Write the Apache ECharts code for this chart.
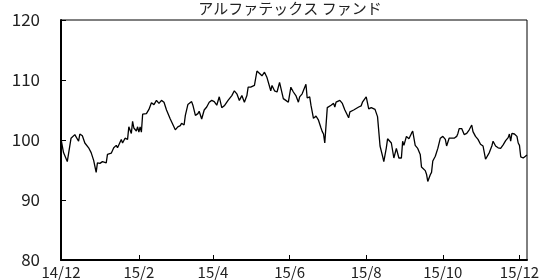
<!DOCTYPE html>
<html>
<head>
<meta charset="utf-8">
<script src="https://cdn.jsdelivr.net/npm/echarts@6/dist/echarts.min.js"></script>
<style>
  html, body { margin: 0; padding: 0; background: #fff; }
  #chart { width: 544px; height: 280px; }
</style>
</head>
<body>
<div id="chart"></div>
<script>
// 基準価額の推移（読み取り値）
var title = "アルファテックス ファンド";
var tickDates = ["2014-12-01", "2015-02-01", "2015-04-01", "2015-06-01", "2015-08-01", "2015-10-01", "2015-12-01"];
var startDate = "2014-12-01";
var endDate = "2015-12-07";

var dates = [
  "2014-12-01","2014-12-03","2014-12-06","2014-12-09","2014-12-12","2014-12-13","2014-12-15","2014-12-16",
  "2014-12-18","2014-12-20","2014-12-23","2014-12-25","2014-12-27","2014-12-29","2014-12-30",
  "2015-01-01","2015-01-03","2015-01-06","2015-01-07","2015-01-10","2015-01-12","2015-01-14","2015-01-15",
  "2015-01-18","2015-01-19","2015-01-21","2015-01-23","2015-01-24","2015-01-26","2015-01-27","2015-01-28",
  "2015-01-30","2015-01-31",
  "2015-02-01","2015-02-02","2015-02-03","2015-02-04","2015-02-07","2015-02-09","2015-02-11","2015-02-13",
  "2015-02-15","2015-02-17","2015-02-19","2015-02-21","2015-02-23","2015-02-24","2015-02-26","2015-02-27",
  "2015-03-02","2015-03-04","2015-03-06","2015-03-07","2015-03-09","2015-03-10","2015-03-12","2015-03-15",
  "2015-03-16","2015-03-18","2015-03-20","2015-03-21","2015-03-23","2015-03-25","2015-03-27","2015-03-29",
  "2015-03-31",
  "2015-04-02","2015-04-03","2015-04-04","2015-04-06","2015-04-08","2015-04-10","2015-04-13","2015-04-16",
  "2015-04-18","2015-04-20","2015-04-22","2015-04-24","2015-04-26","2015-04-28","2015-04-29",
  "2015-05-01","2015-05-04","2015-05-06","2015-05-07","2015-05-10","2015-05-12","2015-05-14","2015-05-15",
  "2015-05-17","2015-05-18","2015-05-20","2015-05-22","2015-05-24","2015-05-25","2015-05-27","2015-05-29",
  "2015-05-31",
  "2015-06-02","2015-06-04","2015-06-06","2015-06-08","2015-06-09","2015-06-11","2015-06-14","2015-06-15",
  "2015-06-17","2015-06-18","2015-06-20","2015-06-22","2015-06-24","2015-06-26","2015-06-27","2015-06-28",
  "2015-06-29",
  "2015-07-01","2015-07-04","2015-07-06","2015-07-07","2015-07-08","2015-07-11","2015-07-13","2015-07-15",
  "2015-07-18","2015-07-19","2015-07-22","2015-07-23","2015-07-26","2015-07-28","2015-07-29","2015-07-30",
  "2015-08-01","2015-08-03","2015-08-05","2015-08-08","2015-08-10","2015-08-12","2015-08-14","2015-08-15",
  "2015-08-17","2015-08-18","2015-08-21","2015-08-22","2015-08-23","2015-08-25","2015-08-26","2015-08-27",
  "2015-08-29","2015-08-30","2015-08-31",
  "2015-09-02","2015-09-04","2015-09-06","2015-09-07","2015-09-09","2015-09-11","2015-09-13","2015-09-14",
  "2015-09-15","2015-09-17","2015-09-18","2015-09-19","2015-09-21","2015-09-22","2015-09-23","2015-09-25",
  "2015-09-27","2015-09-29",
  "2015-10-01","2015-10-03","2015-10-04","2015-10-06","2015-10-08","2015-10-10","2015-10-12","2015-10-13",
  "2015-10-14","2015-10-16","2015-10-18","2015-10-20","2015-10-22","2015-10-24","2015-10-25","2015-10-27",
  "2015-10-29","2015-10-31",
  "2015-11-02","2015-11-04","2015-11-07","2015-11-09","2015-11-10","2015-11-12","2015-11-14","2015-11-16",
  "2015-11-18","2015-11-20","2015-11-22","2015-11-23","2015-11-24","2015-11-25","2015-11-27","2015-11-29",
  "2015-11-30",
  "2015-12-01","2015-12-02","2015-12-04","2015-12-05","2015-12-07"
];

var values = [
  100.2, 97.9, 96.4, 100.3, 100.9, 101.0, 99.8, 101.0,
  100.7, 99.5, 98.7, 97.9, 96.6, 94.6, 96.2,
  96.1, 96.4, 96.2, 97.6, 97.8, 98.7, 99.1, 98.7,
  100.1, 99.5, 100.3, 100.1, 102.2, 101.1, 103.1, 102.0,
  101.5, 102.2,
  101.3, 102.2, 101.3, 104.3, 104.4, 105.1, 106.2, 105.9,
  106.6, 106.1, 106.6, 106.3, 105.0, 105.2, 103.5, 103.6,
  101.7, 102.2, 102.4, 102.8, 102.5, 104.1, 105.9, 106.4,
  105.8, 104.1, 104.4, 104.8, 103.5, 105.0, 105.5, 106.3,
  106.6,
  106.4, 106.1, 105.8, 107.2, 105.4, 105.7, 106.6, 107.4,
  108.2, 107.7, 106.6, 107.4, 106.3, 107.4, 108.8,
  108.8, 109.1, 111.5, 111.3, 110.7, 111.3, 110.4, 110.3,
  108.2, 109.1, 108.2, 108.0, 109.6, 109.9, 106.9, 106.6,
  106.3,
  108.8, 108.0, 107.4, 106.3, 107.2, 107.7, 109.3, 107.0,
  107.2, 105.8, 103.6, 104.0, 103.3, 102.0, 101.4, 101.0,
  99.5,
  105.4, 105.8, 106.1, 105.5, 106.3, 106.6, 106.1, 105.0,
  103.7, 104.7, 105.0, 105.2, 105.5, 105.7, 106.3, 106.3,
  107.2, 105.2, 105.4, 105.1, 103.9, 99.0, 97.3, 96.4,
  98.7, 100.2, 99.5, 99.2, 97.0, 98.6, 98.8, 97.0,
  97.0, 99.8, 99.1,
  100.6, 100.2, 101.1, 101.5, 99.1, 98.6, 97.6, 95.5,
  95.4, 94.9, 94.3, 93.1, 94.2, 94.6, 96.5, 97.3,
  98.6, 100.3,
  100.6, 100.1, 99.0, 100.3, 100.3, 100.3, 100.6, 101.1,
  101.9, 101.9, 100.9, 101.1, 101.7, 102.5, 101.4, 100.6,
  100.1, 99.3,
  99.0, 96.8, 97.9, 99.0, 99.8, 99.0, 98.7, 98.6,
  99.2, 99.9, 100.4, 101.0, 99.8, 101.1, 101.0, 100.6,
  99.5,
  99.1, 97.2, 97.0, 97.2, 97.5
];

function parseDate(s) {
  var p = s.split("-");
  return new Date(+p[0], +p[1] - 1, +p[2]).getTime();
}

var chart = echarts.init(document.getElementById("chart"), null, { renderer: "canvas" });

var fontFamily = "'Noto Sans CJK JP', sans-serif";
var seriesData = dates.map(function (d, i) { return [parseDate(d), values[i]]; });
var tickValues = tickDates.map(parseDate);

var option = {
  animation: false,
  title: {
    text: title,
    left: 285,
    textAlign: "center",
    top: -4,
    textStyle: { fontFamily: fontFamily, fontSize: 15, fontWeight: "normal", color: "#222" }
  },
  grid: {
    left: 61, right: 17, top: 20, bottom: 16,
    show: true,
    borderColor: "#000",
    borderWidth: 1,
    backgroundColor: "transparent"
  },
  xAxis: {
    type: "value",
    min: parseDate(startDate),
    max: parseDate(endDate),
    axisLine: { show: true, lineStyle: { color: "#000", width: 2 } },
    axisTick: {
      show: true, inside: true, length: 5,
      customValues: tickValues,
      lineStyle: { color: "#000", width: 1 }
    },
    axisLabel: {
      customValues: tickValues,
      margin: 5,
      fontFamily: fontFamily,
      fontSize: 15,
      color: "#222",
      formatter: function (v) {
        var d = new Date(v);
        return String(d.getFullYear()).slice(2) + "/" + (d.getMonth() + 1);
      }
    },
    splitLine: { show: false }
  },
  yAxis: {
    type: "value",
    min: 80,
    max: 120,
    interval: 10,
    axisLine: { show: true, lineStyle: { color: "#000", width: 2 } },
    axisTick: { show: true, inside: true, length: 5, lineStyle: { color: "#000", width: 1 } },
    axisLabel: { margin: 21, fontFamily: fontFamily, fontSize: 17, color: "#222" },
    splitLine: { show: false }
  },
  series: [
    {
      type: "line",
      data: seriesData,
      showSymbol: false,
      lineStyle: { color: "#000", width: 1.3 },
      emphasis: { disabled: true }
    }
  ]
};

chart.setOption(option);
</script>
</body>
</html>
